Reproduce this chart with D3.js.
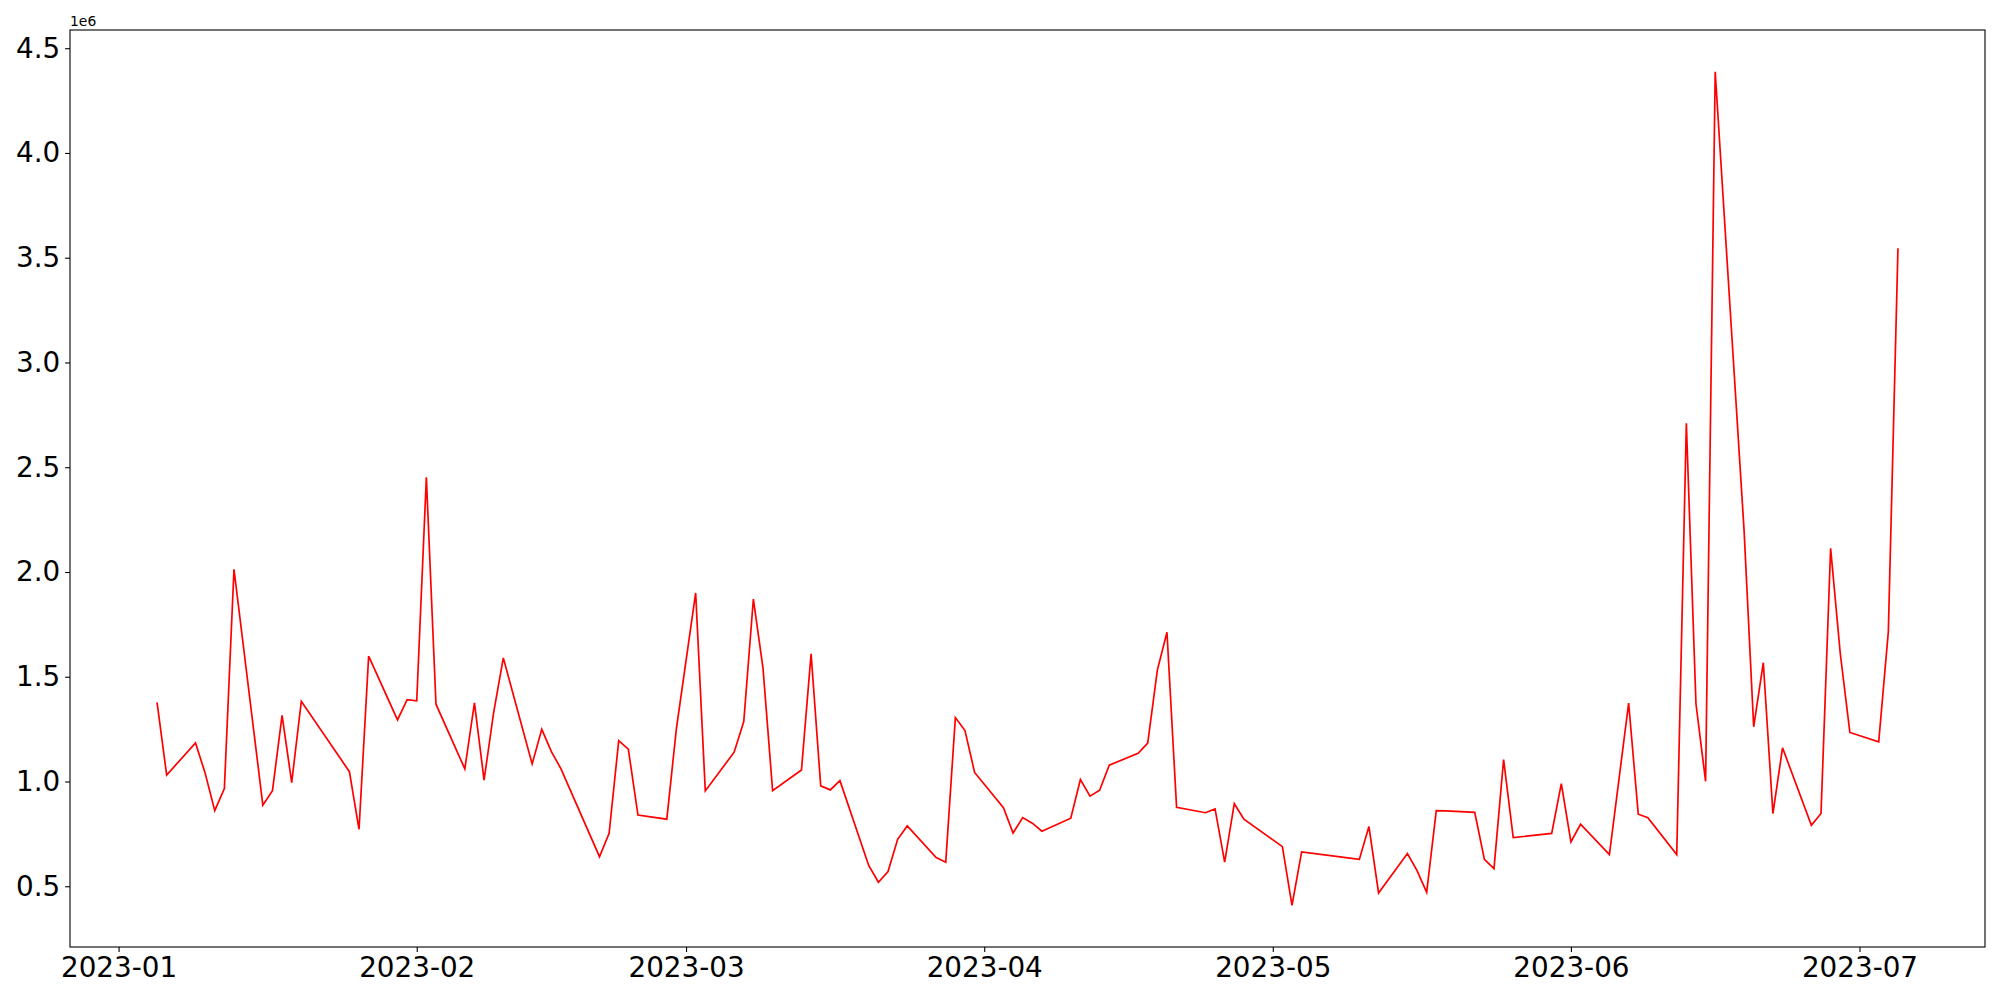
<!DOCTYPE html>
<html>
<head>
<meta charset="utf-8">
<script src="https://cdn.jsdelivr.net/npm/d3@7"></script>
<style>
  html, body { margin: 0; padding: 0; background: #fff; }
  svg { display: block; font-family: "DejaVu Sans", sans-serif; }
</style>
</head>
<body>
<svg id="chart" width="2000" height="1000"></svg>
<script>
// ---- data ----
const dates = [
  "2023-01-05","2023-01-06","2023-01-09","2023-01-10","2023-01-11","2023-01-12","2023-01-13",
  "2023-01-16","2023-01-17","2023-01-18","2023-01-19","2023-01-20",
  "2023-01-25","2023-01-26","2023-01-27","2023-01-30","2023-01-31",
  "2023-02-01","2023-02-02","2023-02-03","2023-02-06","2023-02-07","2023-02-08","2023-02-09","2023-02-10",
  "2023-02-13","2023-02-14","2023-02-15","2023-02-16","2023-02-17",
  "2023-02-20","2023-02-21","2023-02-22","2023-02-23","2023-02-24","2023-02-27","2023-02-28",
  "2023-03-02","2023-03-03","2023-03-06","2023-03-07","2023-03-08","2023-03-09","2023-03-10",
  "2023-03-13","2023-03-14","2023-03-15","2023-03-16","2023-03-17",
  "2023-03-20","2023-03-21","2023-03-22","2023-03-23","2023-03-24",
  "2023-03-27","2023-03-28","2023-03-29","2023-03-30","2023-03-31",
  "2023-04-03","2023-04-04","2023-04-05","2023-04-06","2023-04-07",
  "2023-04-10","2023-04-11","2023-04-12","2023-04-13","2023-04-14",
  "2023-04-17","2023-04-18","2023-04-19","2023-04-20","2023-04-21",
  "2023-04-24","2023-04-25","2023-04-26","2023-04-27","2023-04-28",
  "2023-05-02","2023-05-03","2023-05-04",
  "2023-05-08","2023-05-09","2023-05-10","2023-05-11","2023-05-12",
  "2023-05-15","2023-05-16","2023-05-17","2023-05-18","2023-05-19",
  "2023-05-22","2023-05-23","2023-05-24","2023-05-25","2023-05-26",
  "2023-05-30","2023-05-31","2023-06-01","2023-06-02",
  "2023-06-05","2023-06-07","2023-06-08","2023-06-09",
  "2023-06-12","2023-06-13","2023-06-14","2023-06-15","2023-06-16",
  "2023-06-19","2023-06-20","2023-06-21","2023-06-22","2023-06-23",
  "2023-06-26","2023-06-27","2023-06-28","2023-06-29","2023-06-30",
  "2023-07-03","2023-07-04","2023-07-05"
];
const volumes = [
  1378000,1031000,1184000,1040000,861000,966000,2013000,
  887000,956000,1316000,995000,1383000,
  1047000,772000,1598000,1294000,1391000,
  1385000,2452000,1369000,1060000,1375000,1007000,1330000,1590000,
  1084000,1249000,1143000,1060000,955000,
  641000,753000,1195000,1154000,840000,820000,1254000,
  1900000,955000,1140000,1286000,1871000,1541000,956000,
  1055000,1609000,979000,960000,1004000,
  598000,519000,570000,724000,788000,
  637000,615000,1305000,1243000,1043000,
  875000,754000,828000,801000,763000,
  825000,1009000,930000,958000,1078000,
  1135000,1183000,1532000,1712000,877000,
  851000,869000,615000,894000,820000,
  689000,409000,664000,
  640000,634000,628000,785000,468000,
  656000,575000,471000,861000,860000,
  853000,628000,584000,1105000,732000,
  752000,990000,712000,796000,
  651000,1374000,844000,827000,
  651000,2710000,1371000,1001000,4388000,
  2200000,1261000,1567000,847000,1161000,
  791000,847000,2113000,1612000,1234000,
  1189000,1715000,3545000
];
const yTickValues = [500000,1000000,1500000,2000000,2500000,3000000,3500000,4000000,4500000];
const yTickLabels = ["0.5","1.0","1.5","2.0","2.5","3.0","3.5","4.0","4.5"];
const xTickLabels = ["2023-01","2023-02","2023-03","2023-04","2023-05","2023-06","2023-07"];
const offsetLabel = "1e6";

// ---- layout ----
const W = 2000, H = 1000;
const plot = { left: 70, right: 1985, top: 30, bottom: 947 };
const fontPx = 27.8, tickLen = 4.9, tickPad = 4.9;

const parse = d3.utcParse("%Y-%m-%d");
const data = dates.map((d, i) => ({ date: parse(d), value: volumes[i] }));

const xExt = d3.extent(data, d => d.date);
const xSpan = xExt[1] - xExt[0];
const x = d3.scaleUtc()
  .domain([new Date(+xExt[0] - 0.05 * xSpan), new Date(+xExt[1] + 0.05 * xSpan)])
  .range([plot.left, plot.right]);

const yExt = d3.extent(data, d => d.value);
const ySpan = yExt[1] - yExt[0];
const y = d3.scaleLinear()
  .domain([yExt[0] - 0.05 * ySpan, yExt[1] + 0.05 * ySpan])
  .range([plot.bottom, plot.top]);

const svg = d3.select("#chart");

// line
const line = d3.line().x(d => x(d.date)).y(d => y(d.value));
svg.append("path")
  .datum(data)
  .attr("fill", "none")
  .attr("stroke", "#ff0000")
  .attr("stroke-width", 1.7)
  .attr("stroke-linejoin", "miter")
  .attr("d", line);

// x axis
const xTickDates = xTickLabels.map(s => d3.utcParse("%Y-%m")(s));
const xAxis = d3.axisBottom(x)
  .tickValues(xTickDates)
  .tickFormat((d, i) => xTickLabels[i])
  .tickSizeInner(tickLen).tickSizeOuter(0).tickPadding(tickPad);
const gx = svg.append("g")
  .attr("transform", `translate(0,${plot.bottom})`)
  .call(xAxis);
gx.select(".domain").remove();
gx.selectAll("line").attr("stroke", "#000").attr("stroke-width", 1.1);
gx.selectAll("text").attr("font-size", fontPx).attr("fill", "#000")
  .attr("font-family", "DejaVu Sans");

// y axis
const yAxis = d3.axisLeft(y)
  .tickValues(yTickValues)
  .tickFormat((d, i) => yTickLabels[i])
  .tickSizeInner(tickLen).tickSizeOuter(0).tickPadding(tickPad);
const gy = svg.append("g")
  .attr("transform", `translate(${plot.left},0)`)
  .call(yAxis);
gy.select(".domain").remove();
gy.selectAll("line").attr("stroke", "#000").attr("stroke-width", 1.1);
gy.selectAll("text").attr("font-size", fontPx).attr("fill", "#000")
  .attr("font-family", "DejaVu Sans");

// frame (spines)
svg.append("rect")
  .attr("x", plot.left).attr("y", plot.top)
  .attr("width", plot.right - plot.left).attr("height", plot.bottom - plot.top)
  .attr("fill", "none").attr("stroke", "#000").attr("stroke-width", 1.1);

// offset text
svg.append("text")
  .attr("x", plot.left).attr("y", plot.top - 4)
  .attr("font-size", 13.9).attr("font-family", "DejaVu Sans").attr("fill", "#000")
  .text(offsetLabel);
</script>
</body>
</html>
